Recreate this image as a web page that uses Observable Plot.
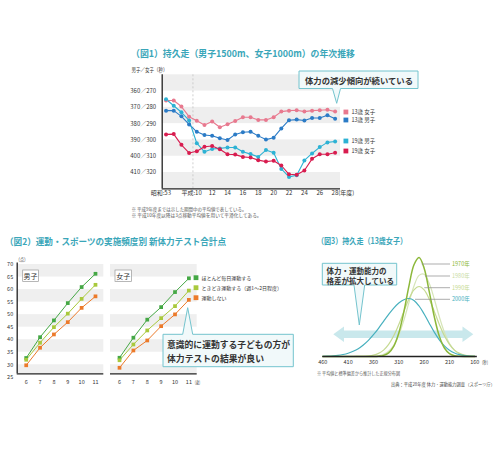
<!DOCTYPE html>
<html><head><meta charset="utf-8">
<script src="https://cdn.jsdelivr.net/npm/d3@7"></script>
<script src="https://cdn.jsdelivr.net/npm/@observablehq/plot@0.6"></script>
<style>
html,body{margin:0;padding:0;background:#fff;overflow:hidden;}
#root{position:relative;width:500px;height:450px;font-family:"Noto Sans CJK JP","Noto Sans",sans-serif;}
</style></head><body><div id="root"></div>
<script>
// ---------- Chart 1 data: 持久走 年次推移 ----------
const runPos = [0,1,2,3,4,5,6,7,8,9,10,11,12,13,14,15,16,17,18,19,20,21,22];
const runTickPos = [0,4,6,8,10,12,14,16,18,20,22];
const runTickLabels = ["昭和:53","平成:10","12","14","16","18","20","22","24","26","28(年度)"];
const runYTicksBoys = [360,370,380,390,400,410];
const runYTicksGirls = [270,280,290,300,310,320];
const runBands = [[350,360],[370,380],[390,400],[410,420]];
const girls13 = [275.8,275.8,279.5,285.7,288.2,290.8,288.7,292.2,290.4,288.3,286.1,286.1,287.7,287.7,286.1,282.6,282.0,281.8,282.6,282.0,281.8,281.5,282.6];
const boys13  = [372.0,372.0,375.5,380.5,385.0,387.0,387.4,389.0,390.0,386.6,385.3,385.0,387.5,389.8,388.6,382.9,377.9,377.5,378.1,376.5,376.5,374.8,377.0];
const boys19  = [365.0,369.0,373.0,378.0,392.0,397.3,395.6,395.2,394.6,394.6,397.3,398.7,400.4,396.2,397.9,407.8,412.7,411.7,402.6,398.3,394.4,391.5,391.0];
const girls19 = [296.6,296.4,303.0,308.0,306.9,304.2,303.7,305.7,308.8,309.0,310.4,310.8,312.4,313.3,312.8,315.7,321.1,321.4,318.8,311.6,308.8,308.8,307.9];
const runNames = ["13歳 女子","13歳 男子","19歳 男子","19歳 女子"];
const runColors = ["#e8798f","#2b7bc6","#2db2d4","#d81c4f"];

// ---------- Chart 2 data: 新体力テスト合計点 ----------
const ages = [6,7,8,9,10,11];
const freqNames = ["ほとんど毎日運動する","ときどき運動する（週1〜2日程度）","運動しない"];
const freqColors = ["#45a845","#a9c93c","#ec7a2a"];
const boysDaily     = [32.7,41.0,47.7,54.6,61.0,66.3];
const boysSometimes = [32.0,38.8,45.0,50.4,56.3,61.9];
const boysNone      = [29.8,36.8,42.1,47.0,52.7,57.3];
const girlsDaily     = [32.8,40.8,48.0,53.0,59.0,64.5];
const girlsSometimes = [31.8,38.1,43.7,48.6,53.4,59.6];
const girlsNone      = [28.8,35.7,39.7,45.4,50.1,55.9];
const scoreTicks = [25,30,35,40,45,50,55,60,65,70];
const scoreBands = [[25,30],[35,40],[45,50],[55,60],[65,70]];

// ---------- Chart 3 data: 持久走 分布 (13歳女子) ----------
const secs = [460,450,440,430,420,410,400,390,380,370,360,350,340,330,320,310,300,290,280,270,260,250,240,230,220,210,200,190,180,170,160];
const dist1970 = [0,0,0,0,0,0,0,0,0,0,0,0.3,1.1,3.7,10.2,23.5,44.7,70.4,91.7,98.9,88.3,65.2,39.9,20.2,8.5,2.9,0.8,0.2,0,0,0];
const dist1980 = [0,0,0,0,0,0,0,0,0,0.1,0.2,0.7,2.1,5.2,11.2,21.5,36.3,53.9,70.5,81.1,82.2,73.2,57.5,39.7,24.2,12.9,6.1,2.5,0.9,0.3,0.1];
const dist1990 = [0,0,0,0,0,0,0,0.1,0.2,0.5,1.3,3.1,6.4,12.1,20.7,32.0,45.1,57.6,66.7,70.0,66.7,57.6,45.1,32.0,20.7,12.1,6.4,3.1,1.3,0.5,0.2];
const dist2000 = [0.1,0.3,0.6,1.1,2.0,3.3,5.2,7.8,11.5,16.1,21.8,28.2,35.2,42.1,48.4,53.5,56.8,58.0,56.0,50.5,42.5,33.3,24.4,16.7,10.6,6.3,3.5,1.8,0.9,0.4,0.2];
const secTicks = [460,410,360,310,260,210,160];
const distNames = ["1970年","1980年","1990年","2000年"];
const distColors = ["#8cb83a","#d6e5b8","#c6da92","#47b0be"];

// ---------- helpers ----------
const FONT = '"Noto Sans CJK JP","Noto Sans",sans-serif';
const W = 500, H = 450;
const TEAL = "#3aa6b9";
const root = document.getElementById("root");
function add(svg){ svg.style.position="absolute"; svg.style.left="0px"; svg.style.top="0px"; root.appendChild(svg); }
const st = {background:"none", overflow:"visible", fontFamily: FONT, maxWidth:"none", pointerEvents:"none"};

// ---------- back overlay (arrow of chart 3) ----------
const back = d3.create("svg").attr("width",W).attr("height",H).attr("font-family",FONT);
back.append("path")
  .attr("d","M333.3,334.3 L344,326.5 L344,330.5 L462.5,330.5 L462.5,326.5 L473.3,334.3 L462.5,342.1 L462.5,338.1 L344,338.1 L344,342.1 Z")
  .attr("fill","#c9e8ec");
add(back.node());

// ---------- Chart 1 ----------
const runData = [];
[girls13, boys13, boys19, girls19].forEach((vals, k) => {
  const offset = (k === 0 || k === 3) ? 90 : 0; // 女子 is read on the right-hand label
  vals.forEach((v, i) => runData.push({name: runNames[k], x: runPos[i], y: v + offset}));
});
const runX0 = -0.5, runX1 = 22.7;
const c1 = Plot.plot({
  width: W, height: H,
  marginLeft: 161.7, marginRight: W - 340, marginTop: 74.3, marginBottom: H - 188.3,
  x: {domain: [runX0, runX1], axis: null},
  y: {domain: [350, 420], reverse: true, axis: null},
  color: {domain: runNames, range: runColors},
  style: st,
  marks: [
    Plot.rect(runBands, {x1: runX0, x2: runX1, y1: d => d[0], y2: d => d[1], fill: "#eeeeee"}),
    Plot.ruleX([3.5], {stroke: "#c4c4c4", strokeDasharray: "2,2", strokeWidth: 0.8}),
    Plot.line(runData, {x: "x", y: "y", z: "name", stroke: "name", strokeWidth: 1.1}),
    Plot.dot(runData, {x: "x", y: "y", fill: "name", r: 2}),
    Plot.ruleX([runX0], {stroke: "#222", strokeWidth: 1.3}),
    Plot.ruleY([420], {stroke: "#222", strokeWidth: 1.3}),
    Plot.text(runYTicksBoys, {x: runX0, y: d => d, text: (d, i) => d + "／" + runYTicksGirls[i], textAnchor: "end", dx: -6, fontSize: 6, fill: "#333"}),
    Plot.text(runTickPos.slice(0, 2), {x: d => d, y: 420, text: (d, i) => runTickLabels[i], textAnchor: "end", dx: 5, dy: 4.5, fontSize: 6, fill: "#333"}),
    Plot.text(runTickPos.slice(2, -1), {x: d => d, y: 420, text: (d, i) => runTickLabels[i + 2], dy: 4.5, fontSize: 6, fill: "#333"}),
    Plot.text(runTickPos.slice(-1), {x: d => d, y: 420, text: () => runTickLabels[runTickLabels.length - 1], textAnchor: "start", dx: -3.5, dy: 4.5, fontSize: 6, fill: "#333"})
  ]
});
add(c1);

// ---------- Chart 2 (two panels) ----------
const sY0 = 26.4, sY1 = 70.6, aX0 = 5.35, aX1 = 11.6;
function panel(left, right, series, isBoys) {
  const data = [];
  series.forEach((vals, k) => vals.forEach((v, i) => data.push({name: freqNames[k], x: ages[i], y: v})));
  const marks = [
    Plot.rect(scoreBands, {x1: aX0, x2: aX1, y1: d => Math.max(d[0], sY0), y2: d => d[1], fill: "#efefef"}),
    Plot.line(data, {x: "x", y: "y", z: "name", stroke: "name", strokeWidth: 1}),
    Plot.dot(data, {x: "x", y: "y", fill: "name", symbol: "square", r: 2.1}),
    Plot.ruleY([sY0], {stroke: "#222", strokeWidth: 1.3}),
    Plot.text(ages, {x: d => d, y: sY0, text: d => String(d), dy: 8.2, fontSize: 5.5, fill: "#333"})
  ];
  if (isBoys) {
    marks.push(Plot.ruleX([aX0], {stroke: "#222", strokeWidth: 1.3}));
    marks.push(Plot.text(scoreTicks, {x: aX0, y: d => d, text: d => String(d), textAnchor: "end", dx: -4, fontSize: 5.5, fill: "#333"}));
  }
  return Plot.plot({
    width: W, height: H,
    marginLeft: left, marginRight: W - right, marginTop: 262.5, marginBottom: H - 373.3,
    x: {domain: [aX0, aX1], axis: null},
    y: {domain: [sY0, sY1], axis: null},
    color: {domain: freqNames, range: freqColors},
    style: st,
    marks
  });
}
add(panel(16.7, 103.3, [boysDaily, boysSometimes, boysNone], true));
add(panel(110, 196.7, [girlsDaily, girlsSometimes, girlsNone], false));

// ---------- Chart 3 ----------
const distData = [];
[dist1980, dist1990, dist2000, dist1970].forEach((vals, k) => {
  const name = [distNames[1], distNames[2], distNames[3], distNames[0]][k];
  vals.forEach((v, i) => distData.push({name, x: secs[i], y: v}));
});
const c3 = Plot.plot({
  width: W, height: H,
  marginLeft: 322.3, marginRight: W - 474.3, marginTop: 246, marginBottom: H - 356,
  x: {domain: [160, 460], reverse: true, axis: null},
  y: {domain: [0, 110], axis: null},
  color: {domain: distNames, range: distColors},
  style: st,
  marks: [
    Plot.line(distData, {x: "x", y: "y", z: "name", stroke: "name", strokeWidth: d => d.name === "1970年" ? 1.5 : 1.2, curve: "catmull-rom"}),
    Plot.ruleY([0], {stroke: "#222", strokeWidth: 1.3, x1: 460, x2: 155}),
    Plot.text(secTicks, {x: d => d, y: 0, text: d => String(d), dy: 6, fontSize: 5.5, fill: "#333"})
  ]
});
add(c3);

// ---------- front overlay: titles, legends, callouts, notes ----------
const ov = d3.create("svg").attr("width",W).attr("height",H).attr("font-family",FONT);
function txt(x, y, s, o = {}) {
  const t = ov.append("text").attr("x", x).attr("y", y).attr("dominant-baseline", "central")
    .attr("font-size", o.fs || 6).attr("fill", o.fill || "#333").text(s);
  if (o.bold) t.attr("font-weight", "bold");
  if (o.anchor) t.attr("text-anchor", o.anchor);
  if (o.len) t.attr("textLength", o.len).attr("lengthAdjust", "spacingAndGlyphs");
  return t;
}
// titles
txt(131, 53, "（図1）持久走（男子1500m、女子1000m）の年次推移", {fs: 9.5, bold: true, fill: TEAL, len: 224});
txt(5, 241, "（図2）運動・スポーツの実施頻度別 新体力テスト合計点", {fs: 9, bold: true, fill: TEAL, len: 221});
txt(317, 240, "（図3）持久走（13歳女子）", {fs: 8.5, bold: true, fill: TEAL, len: 90});
// chart 1 extras
txt(131.5, 69.5, "男子／女子（秒）", {fs: 5.5, len: 36});
txt(131.5, 208.3, "※ 平成9年度までは示した期間中の平均値で表している。", {fs: 4.8, fill: "#555", len: 115});
txt(131.5, 214.3, "※ 平成10年度以降は3点移動平均値を用いて平滑化してある。", {fs: 4.8, fill: "#555", len: 130});
[112, 120, 141, 151].forEach((y, i) => {
  ov.append("rect").attr("x", 343.5).attr("y", y - 2.4).attr("width", 4.8).attr("height", 4.8).attr("fill", runColors[i]);
  txt(351.5, y, runNames[i], {fs: 5.5});
});
ov.append("path").attr("d", "M299,71 H418 V88.5 H340.5 L336.7,103.3 L332.5,88.5 H299 Z")
  .attr("fill", "#f1f9fa").attr("stroke", "#74c4ce").attr("stroke-width", 1);
txt(305, 80, "体力の減少傾向が続いている", {fs: 8.5, bold: true, fill: "#333", len: 108});
// chart 2 extras
txt(16, 258, "（点）", {fs: 5, len: 12});
ov.append("rect").attr("x", 22.7).attr("y", 270).attr("width", 15.8).attr("height", 11.5).attr("fill", "#fff").attr("stroke", "#999").attr("stroke-width", 0.7);
txt(30.6, 275.8, "男子", {fs: 7, anchor: "middle"});
ov.append("rect").attr("x", 115).attr("y", 270).attr("width", 16.5).attr("height", 11.5).attr("fill", "#fff").attr("stroke", "#999").attr("stroke-width", 0.7);
txt(123.2, 275.8, "女子", {fs: 7, anchor: "middle"});
txt(193, 381.5, "（歳）", {fs: 5, len: 9});
[277.7, 287.7, 297.7].forEach((y, i) => {
  ov.append("rect").attr("x", 193.6).attr("y", y - 2.4).attr("width", 4.8).attr("height", 4.8).attr("fill", freqColors[i]);
  txt(201.5, y, freqNames[i], {fs: 5});
});
ov.append("path").attr("d", "M163,334.3 H182.7 L187.7,307.7 L192.7,334.3 H293.3 V366.7 H163 Z")
  .attr("fill", "#f1f9fa").attr("stroke", "#74c4ce").attr("stroke-width", 1);
txt(167, 344, "意識的に運動する子どもの方が", {fs: 8.8, bold: true, fill: "#333", len: 123});
txt(167, 358, "体力テストの結果が良い", {fs: 8.8, bold: true, fill: "#333", len: 97});
// chart 3 extras
[[421.7, 264], [425, 276], [424.3, 287.7], [415, 299.3]].forEach(([x, y], i) => {
  ov.append("line").attr("x1", x).attr("x2", 450).attr("y1", y).attr("y2", y).attr("stroke", "#8a8a8a").attr("stroke-width", 0.7);
  txt(452, y, distNames[i], {fs: 5.5, fill: i === 1 ? "#c9dca6" : distColors[i]});
});
ov.append("path").attr("d", "M322.3,263.3 H396.7 V285 H364.7 L359.3,325 L354,285 H322.3 Z")
  .attr("fill", "#f1f9fa").attr("stroke", "#74c4ce").attr("stroke-width", 1);
txt(326.5, 270.5, "体力・運動能力の", {fs: 7.5, bold: true, fill: "#333", len: 60});
txt(326.5, 280, "格差が拡大している", {fs: 7.5, bold: true, fill: "#333", len: 67.5});
txt(480, 361.7, "（秒）", {fs: 5, len: 10});
txt(317, 373.3, "※ 平均値と標準偏差から推計した正規分布図", {fs: 4.3, fill: "#555", len: 83});
txt(391, 384, "出典：平成28年度 体力・運動能力調査（スポーツ庁）", {fs: 4.2, fill: "#444", len: 104});
add(ov.node());
</script></body></html>
